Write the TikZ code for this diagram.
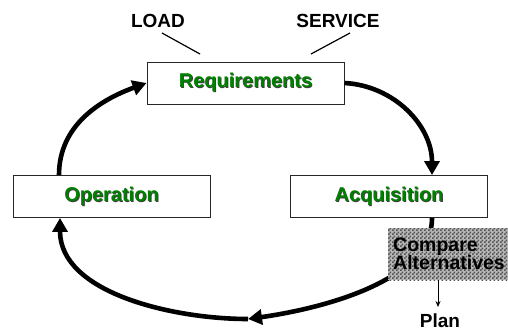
\documentclass[tikz,border=0pt]{standalone}
\usepackage{fontspec}
\setmainfont{Liberation Sans}
\usetikzlibrary{arrows.meta,patterns}
\definecolor{stagegreen}{RGB}{0,128,0}
% fine checkerboard for the comparison box
\pgfdeclarepatternformonly{finechecker}{\pgfpointorigin}{\pgfpoint{4pt}{4pt}}{\pgfpoint{4pt}{4pt}}{%
  \pgfpathrectangle{\pgfpointorigin}{\pgfpoint{2pt}{2pt}}%
  \pgfpathrectangle{\pgfpoint{2pt}{2pt}}{\pgfpoint{2pt}{2pt}}%
  \pgfusepath{fill}}
% green label with a dark drop shadow
\newcommand{\shadowed}[1]{\leavevmode\rlap{\kern1pt\raisebox{-1pt}{\color{black!75}#1}}#1}
\tikzset{
  stagebox/.style={draw=black!85, line width=0.9pt, fill=white, minimum width=197pt,
    minimum height=42pt, inner sep=0pt, text=stagegreen,
    font=\fontsize{20}{22}\selectfont\bfseries},
  plainlabel/.style={font=\fontsize{19}{21}\selectfont\bfseries, inner sep=0pt},
  cycle/.style={line width=4.6pt, -{Triangle[length=14pt,width=15pt]}},
  tie/.style={line width=1.2pt},
}
\begin{document}
\begin{tikzpicture}[x=1pt,y=-1pt]
\useasboundingbox (0,0) rectangle (508,330);

% the four stages of the cycle
\node[stagebox] (req) at (245.5,83) {\shadowed{Requirements}};
\node[stagebox] (acq) at (389,196.5) {\shadowed{Acquisition}};
\node[stagebox] (op)  at (111.5,196.5) {\shadowed{Operation}};

% inputs to the requirements
\node[plainlabel] (load) at (158,21) {LOAD};
\node[plainlabel] (serv) at (338,21) {SERVICE};
\coordinate (loadend) at (200,54);
\coordinate (servend) at (311,54);
\draw[tie] (162,33) -- (loadend);
\draw[tie] (350,33) -- (servend);

% cycle arrows
\coordinate (bottom) at (248,319);
\draw[cycle] (op.north -| 59,0) to[out=90,in=200] (req.west);
\draw[cycle] (req.east) to[out=-3,in=90] (acq.north -| 432,0);
\draw[cycle] (acq.south -| 432,0) to[out=-90,in=8,looseness=0.8] (bottom);
\draw[cycle] (bottom) to[out=180,in=-90,looseness=0.9] (op.south -| 60,0);

% comparison of alternatives
\path (388,228) coordinate (cmpnw) (508,280) coordinate (cmpse);
\fill[black!28] (cmpnw) rectangle (cmpse);
\fill[pattern=finechecker, pattern color=black!68] (cmpnw) rectangle (cmpse);
\node[font=\fontsize{19.5}{21}\selectfont\bfseries, align=left, anchor=west,
      inner sep=0pt] (cmp) at (393,254) {Compare\\[-3pt]Alternatives};
\node[plainlabel, anchor=base] (plan) at (440,327) {Plan};
\coordinate (cmpbot) at (438,280);
\draw[line width=0.8pt, -{Stealth[length=6pt,width=5pt]}] (cmpbot) -- (438,307);
\end{tikzpicture}
\end{document}
